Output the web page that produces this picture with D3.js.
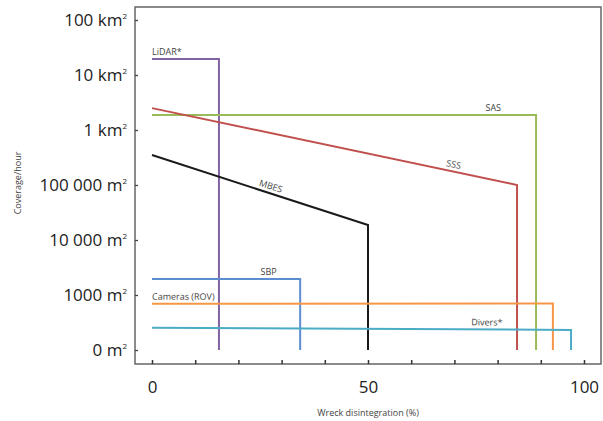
<!DOCTYPE html>
<html>
<head>
<meta charset="utf-8">
<script src="https://cdn.jsdelivr.net/npm/d3@7"></script>
<style>
  body { margin: 0; background: #fff; }
  text { font-family: "Open Sans", "Noto Sans", sans-serif; }
</style>
</head>
<body>
<div id="chart"></div>
<script>
// values: x = wreck disintegration (%), y = coverage per hour (m2)
var methods = ["LiDAR*", "SAS", "SSS", "MBES", "SBP", "Cameras (ROV)", "Divers*"];
var startCover = [19500000, 1870000, 2500000, 350000, 1950, 690, 255];
var endCover = [19500000, 1870000, 100000, 18700, 1950, 700, 232];
var endPercent = [15.5, 88.9, 84.5, 50, 34.3, 92.8, 97];
var colors = ["#8064a2", "#9bbb59", "#c0504d", "#1a1a1a", "#5b8dd0", "#f79646", "#4bacc6"];

var yTicks = [100, 1000, 10000, 100000, 1000000, 10000000, 100000000];
var yTickLabels = [["0 m", "2"], ["1000 m", "2"], ["10 000 m", "2"], ["100 000 m", "2"],
                   ["1 km", "2"], ["10 km", "2"], ["100 km", "2"]];
var xTicks = [0, 10, 20, 30, 40, 50, 60, 70, 80, 90, 100];
var xTickLabels = {0: "0", 50: "50", 100: "100"};

var width = 603, height = 421;
var svg = d3.select("#chart").append("svg")
    .attr("width", width)
    .attr("height", height);

var x = d3.scaleLinear().domain([0, 100]).range([152, 584]);
var y = d3.scaleLog().domain([100, 1e8]).range([350, 20]);

// frame
svg.append("rect")
    .attr("x", 135).attr("y", 7)
    .attr("width", 466).attr("height", 357)
    .attr("fill", "none")
    .attr("stroke", "#666")
    .attr("stroke-width", 1.5);

// y axis
var yAxis = svg.append("g")
    .attr("transform", "translate(135,0)")
    .call(d3.axisLeft(y).tickValues(yTicks).tickSize(-3).tickPadding(8).tickFormat(""));
yAxis.select(".domain").remove();
yAxis.selectAll("line").attr("stroke", "#444").attr("stroke-width", 1.3);
yAxis.selectAll(".tick text").each(function (d, i) {
    var t = d3.select(this)
        .attr("font-size", 17)
        .attr("fill", "#222")
        .attr("dy", "0.35em");
    t.append("tspan").text(yTickLabels[i][0]);
    t.append("tspan").text(yTickLabels[i][1])
        .attr("font-size", 8)
        .attr("dy", "-0.9em");
});

// x axis
var xAxis = svg.append("g")
    .attr("transform", "translate(0,364)")
    .call(d3.axisBottom(x).tickValues(xTicks).tickSize(-4).tickPadding(17)
        .tickFormat(function (d) { return xTickLabels[d] || ""; }));
xAxis.select(".domain").remove();
xAxis.selectAll("line").attr("stroke", "#333").attr("stroke-width", 1.5);
xAxis.selectAll("text").attr("font-size", 17).attr("fill", "#222");

// axis titles
svg.append("text")
    .attr("transform", "translate(21,183) rotate(-90)")
    .attr("text-anchor", "middle")
    .attr("font-size", 9)
    .attr("fill", "#444")
    .text("Coverage/hour");

svg.append("text")
    .attr("x", 368).attr("y", 416)
    .attr("text-anchor", "middle")
    .attr("font-size", 9)
    .attr("fill", "#444")
    .text("Wreck disintegration (%)");

// method lines: slope then drop to the bottom
var line = d3.line()
    .x(function (d) { return x(d[0]); })
    .y(function (d) { return y(d[1]); });

methods.forEach(function (m, i) {
    var pts = [[0, startCover[i]], [endPercent[i], endCover[i]], [endPercent[i], 100]];
    svg.append("path")
        .datum(pts)
        .attr("d", line)
        .attr("fill", "none")
        .attr("stroke", colors[i])
        .attr("stroke-width", 2);
});

// labels, placed along the lines
var labelPos = [0, 79, 69.5, 27, 27, 0, 77.5];
var labelAnchor = ["start", "middle", "middle", "middle", "middle", "start", "middle"];
methods.forEach(function (m, i) {
    var p = labelPos[i] / endPercent[i];
    var v = Math.exp(Math.log(startCover[i]) + p * (Math.log(endCover[i]) - Math.log(startCover[i])));
    var px = x(labelPos[i]), py = y(v);
    var ang = Math.atan2(y(endCover[i]) - y(startCover[i]), x(endPercent[i]) - x(0)) * 180 / Math.PI;
    svg.append("text")
        .attr("transform", "translate(" + px + "," + py + ") rotate(" + ang + ")")
        .attr("y", -4)
        .attr("text-anchor", labelAnchor[i])
        .attr("font-size", 9)
        .attr("fill", "#444")
        .text(m);
});
</script>
</body>
</html>
